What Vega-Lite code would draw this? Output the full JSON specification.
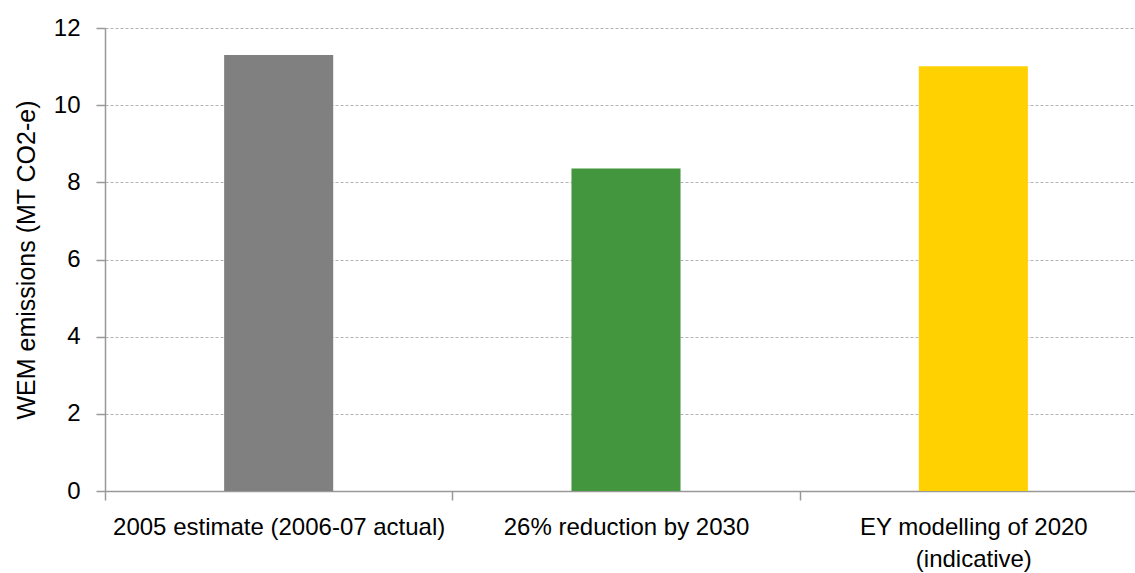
{
  "$schema": "https://vega.github.io/schema/vega-lite/v6.json",
  "width": 1030,
  "height": 463,
  "autosize": {"type": "none"},
  "padding": {"left": 105, "top": 28, "right": 0, "bottom": 82},
  "background": "white",
  "config": {"view": {"stroke": null}, "font": "Liberation Sans"},
  "data": {"values": [
    {"category": "2005 estimate (2006-07 actual)", "value": 11.3, "color": "gray"},
    {"category": "26% reduction by 2030", "value": 8.36, "color": "green"},
    {"category": "EY modelling of 2020 (indicative)", "value": 11.01, "color": "yellow"}
  ]},
  "mark": {"type": "bar", "width": {"band": 0.314}},
  "encoding": {
    "x": {
      "field": "category", "type": "nominal", "sort": null,
      "scale": {"range": [0, 1042], "paddingInner": 0, "paddingOuter": 0},
      "axis": {
        "title": null, "labelAngle": 0, "labelFontSize": 24, "labelColor": "#000000",
        "labelFont": "Liberation Sans", "labelLimit": 0,
        "labelExpr": "datum.value == 'EY modelling of 2020 (indicative)' ? ['EY modelling of 2020', '(indicative)'] : datum.value",
        "labelLineHeight": 32,
        "tickBand": "extent", "tickSize": 9, "tickColor": "#999999", "tickWidth": 1.5,
        "domainColor": "#999999", "domainWidth": 1.5, "labelPadding": 15, "grid": false
      }
    },
    "y": {
      "field": "value", "type": "quantitative",
      "scale": {"domain": [0, 12]},
      "axis": {
        "title": "WEM emissions (MT CO2-e)", "titleFontSize": 25, "titleFontWeight": "normal",
        "titleColor": "#000000", "titleFont": "Liberation Sans", "titlePadding": 14,
        "values": [0, 2, 4, 6, 8, 10, 12],
        "labelFontSize": 24, "labelColor": "#000000", "labelFont": "Liberation Sans", "labelPadding": 16,
        "tickSize": 9, "tickColor": "#999999", "tickWidth": 1.5,
        "domainColor": "#999999", "domainWidth": 1.5,
        "grid": true, "gridColor": "#b3b3b3", "gridDash": [3, 2], "gridWidth": 1
      }
    },
    "color": {
      "field": "color", "type": "nominal", "legend": null,
      "scale": {"domain": ["gray", "green", "yellow"], "range": ["#808080", "#43963d", "#ffd100"]}
    }
  }
}
